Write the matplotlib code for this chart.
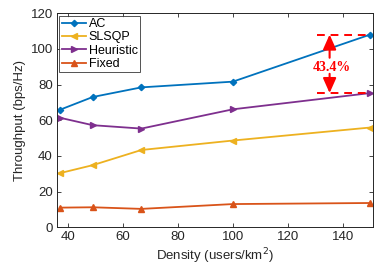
import matplotlib
matplotlib.use("Agg")
import matplotlib.pyplot as plt

density = [37, 49, 66.7, 100, 150]
ac = [65.8, 73.0, 78.4, 81.6, 108.0]
slsqp = [30.3, 34.8, 43.3, 48.6, 55.9]
heuristic = [61.4, 57.2, 55.3, 66.1, 75.2]
fixed = [11.0, 11.2, 10.3, 13.0, 13.6]
labels = ["AC", "SLSQP", "Heuristic", "Fixed"]
xticks = [40, 60, 80, 100, 120, 140]
yticks = [0, 20, 40, 60, 80, 100, 120]
gain_text = "43.4%"

plt.rcParams['font.family'] = ['Liberation Sans', 'DejaVu Sans']
fig = plt.figure(figsize=(3.74, 2.68), dpi=100)
ax = fig.add_axes([0.1524, 0.152, 0.845, 0.799])

colors = ["#0072BD", "#EDB120", "#7E2F8E", "#D95319"]
markers = ["D", "<", ">", "^"]
msizes = [3.2, 4.5, 4.5, 4.5]
for y, lab, c, m, ms in zip([ac, slsqp, heuristic, fixed], labels, colors, markers, msizes):
    ax.plot(density, y, color=c, marker=m, markersize=ms, linewidth=1.3, label=lab)

ax.set_xlim(36, 151)
ax.set_ylim(0, 120)
ax.set_xticks(xticks)
ax.set_yticks(yticks)
ax.tick_params(direction='in', top=True, right=True, labelsize=9.5, length=3, width=0.6,
               colors='#262626', pad=3)
for s in ax.spines.values():
    s.set_linewidth(0.7)
    s.set_color('#262626')
ax.set_xlabel("Density (users/km$^2$)", fontsize=9.5, labelpad=2, color='#262626')
ax.set_ylabel("Throughput (bps/Hz)", fontsize=9.5, labelpad=3, color='#262626')

leg = ax.legend(loc='upper left', fontsize=9, frameon=True, fancybox=False,
                edgecolor='#262626', borderpad=0.2, labelspacing=0.1,
                handlelength=1.9, handletextpad=0.25, borderaxespad=0.2)
leg.get_frame().set_linewidth(0.7)

# annotation
top = ac[-1]
bot = heuristic[-1]
ax.plot([130.5, 150], [top, top], color='red', linestyle=(0, (4, 3)), linewidth=1.4)
ax.plot([130.5, 150], [bot, bot], color='red', linestyle=(0, (4, 3)), linewidth=1.4)
ax.annotate("", xy=(135.2, top), xytext=(135.2, 95),
            arrowprops=dict(arrowstyle='-|>,head_length=0.9,head_width=0.4', color='red', lw=1.5,
                            mutation_scale=10, shrinkA=0, shrinkB=0))
ax.annotate("", xy=(135.2, bot), xytext=(135.2, 86),
            arrowprops=dict(arrowstyle='-|>,head_length=0.9,head_width=0.4', color='red', lw=1.5,
                            mutation_scale=10, shrinkA=0, shrinkB=0))
ax.text(136, 89.8, gain_text, color='red', fontsize=10, fontweight='bold',
        family=['Liberation Serif', 'DejaVu Serif'], ha='center', va='center')

fig.savefig("out.png", dpi=100)
